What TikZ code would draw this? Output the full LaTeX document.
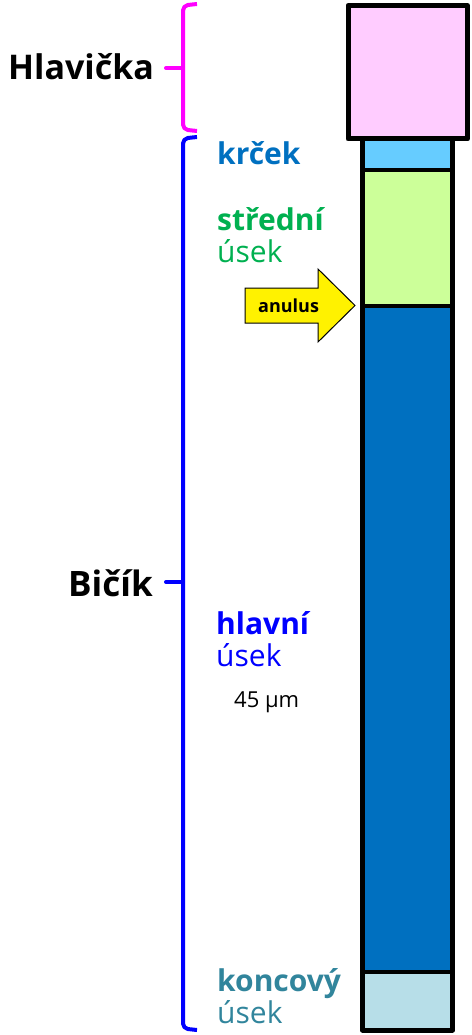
\documentclass[tikz,border=0pt]{standalone}
\usepackage{fontspec}
\setmainfont{Open Sans}
\usetikzlibrary{calc}

\definecolor{headpink}{HTML}{FFCCFF}
\definecolor{neckblue}{HTML}{66CCFF}
\definecolor{midgreen}{HTML}{CCFF99}
\definecolor{mainblue}{HTML}{0070C0}
\definecolor{endblue}{HTML}{B7DEE8}
\definecolor{txtgreen}{HTML}{00B050}
\definecolor{txtteal}{HTML}{31859C}
\definecolor{bracepink}{HTML}{FF00FF}
\definecolor{braceblue}{HTML}{0000FF}

\begin{document}
\begin{tikzpicture}[x=1pt, y=-1pt, line join=round,
    every node/.style={inner sep=0pt, anchor=base west, align=left},
    lbl/.style={font=\fontsize{30}{32}\selectfont},
    brace/.style={line width=4pt, rounded corners=5pt}]
    \useasboundingbox (0,0) rectangle (471,1035);

    % 1. corners of the segments
    \coordinate (H1) at (348,5.5);
    \coordinate (H2) at (467.5,139);
    \coordinate (S0) at (362.5,139);
    \coordinate (S1) at (452.5,170.5);
    \coordinate (S2) at (452.5,305.5);
    \coordinate (S3) at (452.5,971.5);
    \coordinate (S4) at (452.5,1030);
    \coordinate (L1) at (362.5,170.5);
    \coordinate (L2) at (362.5,305.5);
    \coordinate (L3) at (362.5,971.5);

    % 2. fill the tail segments
    \fill[neckblue] (S0) rectangle (S1);
    \fill[midgreen] (L1) rectangle (S2);
    \fill[mainblue] (L2) rectangle (S3);
    \fill[endblue] (L3) rectangle (S4);
    \draw[line width=4pt] (L1) -- (S1);
    \draw[line width=4pt] (L2) -- (S2);
    \draw[line width=4pt] (L3) -- (S3);
    \draw[line width=5pt] (S0) rectangle (S4);

    % 3. the head
    \filldraw[fill=headpink, line width=5pt] (H1) rectangle (H2);

    % 4. braces
    \coordinate (MB) at (183,68);
    \draw[bracepink, brace] (197,4) -- (183,5.5) -- (183,129.5) -- (197,131);
    \draw[bracepink, line width=4pt, line cap=round] (MB) -- ++(-17,0);
    \coordinate (BB) at (183,582);
    \draw[braceblue, brace] (197,137) -- (183,138.5) -- (183,1028.5) -- (197,1030);
    \draw[braceblue, line width=4pt, line cap=round] (BB) -- ++(-17,0);

    % 5. the anulus arrow
    \filldraw[fill=yellow, line width=1pt, line join=miter]
        (245,288) -- (318,288) -- (318,269) -- (355,305.5)
        -- (318,342) -- (318,323) -- (245,323) -- cycle;
    \node[font=\bfseries\fontsize{18}{18}\selectfont] (anulus) at (258,312) {anulus};

    % 6. labels (two-line nodes sit on their last line)
    \node[font=\bfseries\fontsize{34}{34}\selectfont] (hlavicka) at (8,80) {Hlavička};
    \node[font=\bfseries\fontsize{35}{35}\selectfont] (bicik) at (68,596) {Bičík};
    \node[lbl, mainblue] (krcek) at (217,165) {\bfseries krček};
    \node[lbl, txtgreen] (stredni) at (217,262) {\bfseries střední\\úsek};
    \node[lbl, braceblue] (hlavni) at (216,666) {\bfseries hlavní\\úsek};
    \node[font=\fontsize{22}{22}\selectfont] (delka) at (234,707) {45 μm};
    \node[lbl, txtteal] (koncovy) at (217,1023) {\bfseries koncový\\úsek};

\end{tikzpicture}
\end{document}
